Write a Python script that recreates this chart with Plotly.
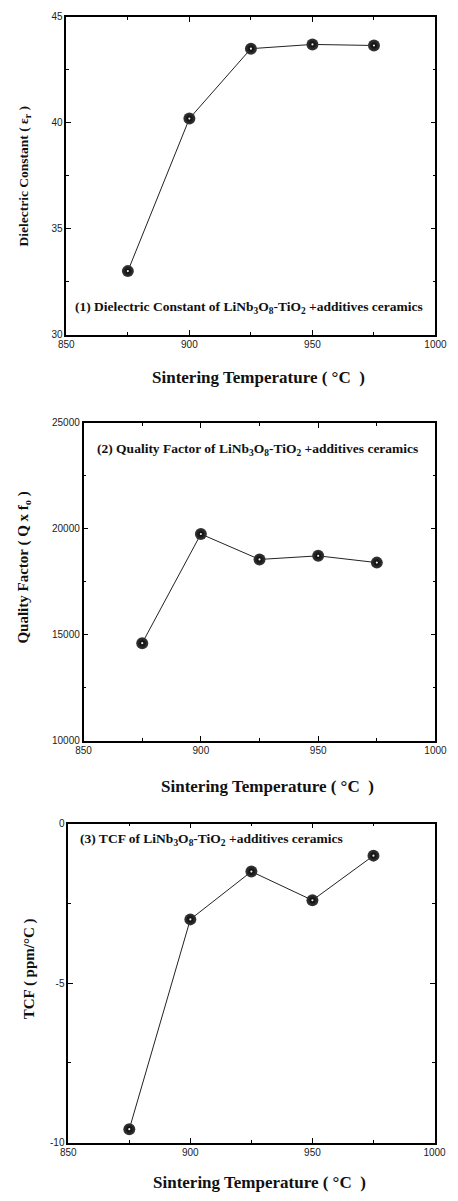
import plotly.graph_objects as go

# ---------------- data ----------------
temps = [875, 900, 925, 950, 975]
dielectric_constant = [33.0, 40.2, 43.5, 43.7, 43.65]
quality_factor = [14600, 19750, 18550, 18720, 18400]
tcf = [-9.58, -3.0, -1.5, -2.4, -1.0]

x_ticks = [850, 900, 950, 1000]
y1_ticks = [30, 35, 40, 45]
y2_ticks = [10000, 15000, 20000, 25000]
y3_ticks = [-10, -5, 0]
y3_ticklabels = ["-10", "-5", "0"]

x_title = "Sintering Temperature ( °C  )"
y_titles = ["Dielectric Constant ( ε<sub>r</sub> )",
            "Quality Factor ( Q x f<sub>o</sub> )",
            "TCF ( ppm/°C )"]
panel_labels = [
    "(1) Dielectric Constant of LiNb<sub>3</sub>O<sub>8</sub>-TiO<sub>2</sub> +additives ceramics",
    "(2) Quality Factor of LiNb<sub>3</sub>O<sub>8</sub>-TiO<sub>2</sub> +additives ceramics",
    "(3) TCF of LiNb<sub>3</sub>O<sub>8</sub>-TiO<sub>2</sub> +additives ceramics",
]

# ---------------- layout helpers ----------------
W, H = 458, 1201
def px(x):
    return x / W
def py(y):
    return 1 - y / H

SERIF = "Liberation Serif, Times New Roman, serif"
SANS = "Liberation Sans, Arial, sans-serif"

# plot boxes in pixels: (left, right, top, bottom)
boxes = [(61, 447, 11, 332), (79, 447, 421, 742), (63, 446, 826, 1148)]
series = [dielectric_constant, quality_factor, tcf]

fig = go.Figure()

for i, vals in enumerate(series):
    n = "" if i == 0 else str(i + 1)
    fig.add_trace(go.Scatter(
        x=temps, y=vals, mode="lines+markers",
        xaxis="x" + n, yaxis="y" + n,
        line=dict(color="#222", width=1),
        marker=dict(size=12, color="#3a3a3a",
                    gradient=dict(type="radial", color="#000"),
                    line=dict(width=0)),
        showlegend=False, hoverinfo="skip"))
    # small specular highlight
    fig.add_trace(go.Scatter(
        x=temps, y=vals, mode="markers",
        xaxis="x" + n, yaxis="y" + n,
        marker=dict(size=2.2, color="#eee", line=dict(width=0)),
        showlegend=False, hoverinfo="skip"))

common_axis = dict(
    showline=True, linecolor="#000", linewidth=1.5, mirror="ticks",
    ticks="inside", ticklen=5, tickwidth=1, tickcolor="#000",
    showgrid=False, zeroline=False,
    tickfont=dict(family=SANS, size=10, color="#222"),
)

yranges = [[30, 45], [10000, 25000], [-10, 0]]
yticks = [y1_ticks, y2_ticks, y3_ticks]
yminor = [2.5, 2500, 2.5]

layout = dict(
    width=W, height=H,
    margin=dict(l=0, r=0, t=0, b=0),
    paper_bgcolor="white", plot_bgcolor="white",
    showlegend=False,
)

annotations = []
ytitle_pos = [(17, 172), (17, 567), (22, 973)]
ytitle_size = [13.5, 15, 15]
label_pos = [(68, 305), (91, 448), (73, 842)]
xtitle_y = [375, 788, 1188]

for i in range(3):
    n = "" if i == 0 else str(i + 1)
    l, r, t, b = boxes[i]
    xa = dict(common_axis)
    xa.update(domain=[px(l), px(r)], range=[850, 1000],
              tickvals=x_ticks, anchor="y" + n,
              minor=dict(dtick=25, tick0=850, ticks="inside", ticklen=3,
                         tickcolor="#000", tickwidth=1))
    ya = dict(common_axis)
    ya.update(domain=[py(b), py(t)], range=yranges[i],
              tickvals=yticks[i], anchor="x" + n, tickformat="d",
              minor=dict(dtick=yminor[i], tick0=yranges[i][0], ticks="inside",
                         ticklen=3, tickcolor="#000", tickwidth=1))
    if i == 2:
        ya.update(ticktext=y3_ticklabels)
    layout["xaxis" + n] = xa
    layout["yaxis" + n] = ya

    # x-axis title
    annotations.append(dict(
        text="<b>" + x_title + "</b>", xref="paper", yref="paper",
        x=px((l + r) / 2 + 8), y=py(xtitle_y[i]),
        xanchor="center", yanchor="middle", showarrow=False,
        font=dict(family=SERIF, size=17, color="#111")))
    # y-axis title
    yx, yy = ytitle_pos[i]
    annotations.append(dict(
        text="<b>" + y_titles[i] + "</b>", xref="paper", yref="paper",
        x=px(yx), y=py(yy), textangle=-90,
        xanchor="center", yanchor="middle", showarrow=False,
        font=dict(family=SERIF, size=ytitle_size[i], color="#111")))
    # panel label
    lx, ly = label_pos[i]
    annotations.append(dict(
        text="<b>" + panel_labels[i] + "</b>", xref="paper", yref="paper",
        x=px(lx), y=py(ly), xanchor="left", yanchor="middle",
        showarrow=False,
        font=dict(family=SERIF, size=13.5, color="#111")))

layout["annotations"] = annotations
fig.update_layout(**layout)
fig.write_html("out.html")
